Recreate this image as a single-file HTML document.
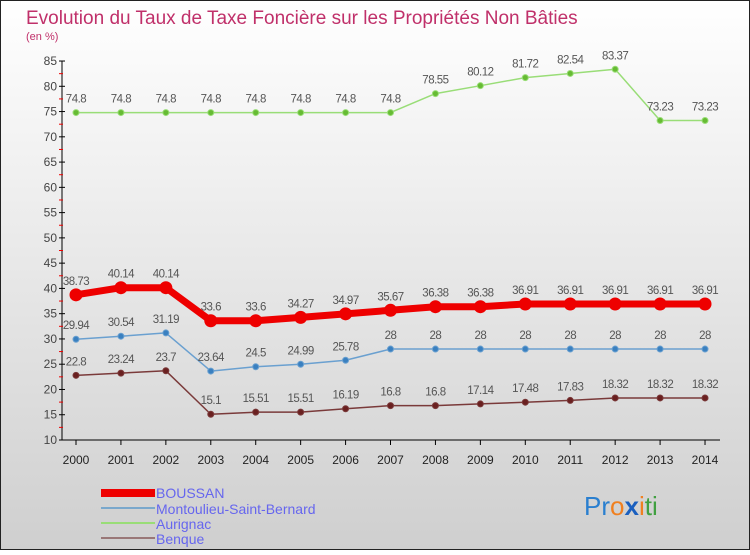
<!DOCTYPE html>
<html><head><meta charset="utf-8"><style>
body{margin:0;}
#c{width:750px;height:550px;position:relative;font-family:"Liberation Sans",sans-serif;}
</style></head><body>
<div id="c">
<svg id="s" width="750" height="550" xmlns="http://www.w3.org/2000/svg">
<defs><linearGradient id="bg" x1="0" y1="0" x2="0" y2="1"><stop offset="0" stop-color="#ffffff"/><stop offset="1" stop-color="#cfcfcf"/></linearGradient></defs>
<rect x="0.5" y="0.5" width="749" height="549" fill="url(#bg)" stroke="#222"/>
<text x="26" y="24" font-size="19" fill="#c0306a">Evolution du Taux de Taxe Foncière sur les Propriétés Non Bâties</text>
<text x="26" y="40" font-size="11" fill="#c0306a">(en %)</text>
<g id="axes"></g>
<g id="series"></g>
<g>
<rect x="101" y="489" width="54" height="8" fill="#e00"/>
<text x="156" y="498" font-size="14" fill="#6666ee">BOUSSAN</text>
<rect x="101" y="507" width="54" height="2" fill="#7aa8cc"/>
<text x="156" y="514" font-size="14" fill="#6666ee">Montoulieu-Saint-Bernard</text>
<rect x="101" y="522" width="54" height="2" fill="#99dd77"/>
<text x="156" y="529" font-size="14" fill="#6666ee">Aurignac</text>
<rect x="101" y="537" width="54" height="2" fill="#997777"/>
<text x="156" y="544" font-size="14" fill="#6666ee">Benque</text>
</g>
<text x="584" y="515" font-size="26"><tspan fill="#2a7fcf">Pr</tspan><tspan fill="#f08020">o</tspan><tspan fill="#1a5fbf" font-weight="bold">x</tspan><tspan fill="#f08020">i</tspan><tspan fill="#40a040">ti</tspan></text>
</svg>
</div>
<script>
const years=[2000,2001,2002,2003,2004,2005,2006,2007,2008,2009,2010,2011,2012,2013,2014];
const yTicks=[10,15,20,25,30,35,40,45,50,55,60,65,70,75,80,85];
const boussan=[38.73,40.14,40.14,33.6,33.6,34.27,34.97,35.67,36.38,36.38,36.91,36.91,36.91,36.91,36.91];
const montoulieu=[29.94,30.54,31.19,23.64,24.5,24.99,25.78,28,28,28,28,28,28,28,28];
const aurignac=[74.8,74.8,74.8,74.8,74.8,74.8,74.8,74.8,78.55,80.12,81.72,82.54,83.37,73.23,73.23];
const benque=[22.8,23.24,23.7,15.1,15.51,15.51,16.19,16.8,16.8,17.14,17.48,17.83,18.32,18.32,18.32];
const NS="http://www.w3.org/2000/svg";
function X(i){return 76+i*44.93;}
function Y(v){return 440-(v-10)*5.053;}
function mk(tag,attrs,parent){const e=document.createElementNS(NS,tag);for(const k in attrs)e.setAttribute(k,attrs[k]);parent.appendChild(e);return e;}
const ax=document.getElementById('axes');
const yl=mk('line',{x1:62,y1:Y(85),x2:62,y2:440,stroke:'#000'},ax);


const xl=mk('line',{x1:62,y1:440,x2:720,y2:440,stroke:'#000'},ax);


yTicks.forEach(v=>{
  mk('line',{x1:59,y1:Y(v),x2:65,y2:Y(v),stroke:'#000'},ax);
  if(v<85) mk('line',{x1:59,y1:Y(v+2.5),x2:63,y2:Y(v+2.5),stroke:'#e00'},ax);
  const t=mk('text',{x:57,y:Y(v)+4,'font-size':12,fill:'#444','text-anchor':'end'},ax);
  t.textContent=v;
  
  
});
years.forEach((yr,i)=>{
  mk('line',{x1:X(i),y1:440,x2:X(i),y2:445,stroke:'#000'},ax);
  const t=mk('text',{x:X(i),y:464,'font-size':12,fill:'#222','text-anchor':'middle'},ax);
  t.textContent=yr;
  
  
});
const sg=document.getElementById('series');
function draw(vals,color,dot,w,r,name){
  const g=mk('g',{},sg);
  
  
  const pts=vals.map((v,i)=>X(i)+','+Y(v)).join(' ');
  mk('polyline',{points:pts,fill:'none',stroke:color,'stroke-width':w,'stroke-linejoin':'round'},g);
  vals.forEach((v,i)=>{
    const c=mk('circle',{cx:X(i),cy:Y(v),r:r,fill:dot,stroke:color,'stroke-width':1},g);
    
    
    const t=mk('text',{x:X(i),y:Y(v)-10,'font-size':11.5,fill:'#555','text-anchor':'middle','letter-spacing':'-0.5'},g);
    t.textContent=v;
    
    
  });
}
draw(aurignac,'#99dd77','#66bb33',1.5,3,'aurignac');
draw(montoulieu,'#6aa0d0','#3a80c0',1.5,3,'montoulieu');
draw(benque,'#7a3a3a','#6a2020',1.5,3,'benque');
draw(boussan,'#ee0000','#ee0000',7,6,'boussan');
</script>
</body></html>
